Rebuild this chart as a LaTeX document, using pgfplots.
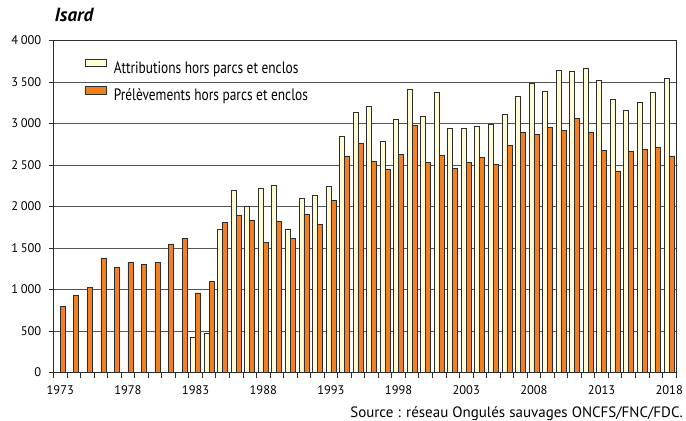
\documentclass[border=0pt]{standalone}
\usepackage{fontspec}
\setmainfont{PT Sans}
\newfontfamily\condfont[FakeStretch=0.81]{PT Sans}
\usepackage{pgfplots}
\usepackage{pgfplotstable}
\pgfplotsset{compat=1.18}
\definecolor{attr}{RGB}{255,251,212}
\definecolor{prel}{RGB}{242,128,32}
\definecolor{gridc}{RGB}{85,85,85}
\definecolor{edgec}{RGB}{45,45,45}

\pgfplotstableread{
year val
1973 800
1974 930
1975 1030
1976 1380
1977 1270
1978 1330
1979 1300
1980 1330
1981 1550
1982 1620
1983 960
1984 1100
1985 1810
1986 1890
1987 1830
1988 1570
1989 1820
1990 1620
1991 1910
1992 1780
1993 2070
1994 2600
1995 2760
1996 2540
1997 2450
1998 2630
1999 2980
2000 2530
2001 2620
2002 2460
2003 2530
2004 2590
2005 2510
2006 2740
2007 2890
2008 2870
2009 2950
2010 2920
2011 3060
2012 2900
2013 2680
2014 2430
2015 2660
2016 2690
2017 2710
2018 2610
}\prel

\pgfplotstableread{
year val
1983 430
1984 470
1985 1730
1986 2200
1987 2000
1988 2220
1989 2250
1990 1720
1991 2100
1992 2140
1993 2240
1994 2850
1995 3140
1996 3210
1997 2790
1998 3050
1999 3410
2000 3090
2001 3380
2002 2940
2003 2940
2004 2970
2005 2990
2006 3110
2007 3330
2008 3480
2009 3390
2010 3640
2011 3630
2012 3660
2013 3520
2014 3290
2015 3160
2016 3260
2017 3380
2018 3540
}\attrib

\begin{document}
\begin{tikzpicture}
\useasboundingbox (0bp,0bp) rectangle (686bp,421bp);
\begin{axis}[
  at={(53.5bp,48.5bp)}, anchor=south west,
  scale only axis, width=622.5bp, height=332bp,
  xmin=1972.5, xmax=2018.5, ymin=0, ymax=4000,
  axis line style={draw=edgec, line width=0.8bp},
  ymajorgrids, grid style={draw=gridc, line width=0.9bp},
  ytick={0,500,...,4000},
  ytick pos=left, xtick pos=bottom,
  tick align=outside,
  major tick length=5bp,
  tick style={draw=edgec, line width=0.8bp},
  xtick={1972.5,1973.5,...,2018.5},
  xticklabels={},
  extra x ticks={1973,1978,1983,1988,1993,1998,2003,2008,2013,2018},
  extra x tick labels={1973,1978,1983,1988,1993,1998,2003,2008,2013,2018},
  extra x tick style={major tick length=0pt, xticklabel style={anchor=north, inner sep=0pt, yshift=-12.5bp}},
  scaled y ticks=false,
  yticklabel style={anchor=east, inner sep=0pt, xshift=-7bp, /pgf/number format/1000 sep={\hspace{2.6bp}}, /pgf/number format/assume math mode=true},
  tick label style={font=\fontsize{12.5bp}{14bp}\selectfont},
  title={Isard},
  title style={at={(axis description cs:0,1)}, anchor=base west, inner sep=0pt, yshift=13bp, xshift=1bp, font=\fontsize{19bp}{22bp}\selectfont\bfseries\itshape},
  xlabel={Source : réseau Ongulés sauvages ONCFS/FNC/FDC.},
  xlabel style={at={(axis description cs:1,0)}, anchor=base east, inner sep=0pt, yshift=-45bp, xshift=7bp, font=\fontsize{15bp}{17bp}\selectfont},
  legend style={at={(axis description cs:0.0506,0.945)}, anchor=north west, draw=none, fill=none, inner sep=0pt, row sep=11bp, column sep=7bp, font=\fontsize{16.5bp}{18bp}\selectfont\condfont, nodes={inner sep=0pt}},
  legend cell align=left,
  clip=false,
]
\addlegendimage{legend image code/.code={\draw[fill=attr,draw=edgec,line width=0.7bp] (0bp,1.75bp) rectangle (21bp,9.25bp);}}
\addlegendentry{Attributions hors parcs et enclos}
\addlegendimage{legend image code/.code={\draw[fill=prel,draw=edgec,line width=0.7bp] (0bp,1.75bp) rectangle (21bp,9.25bp);}}
\addlegendentry{Prélèvements hors parcs et enclos}
\addplot[ybar, bar width=5bp, bar shift=-2.5bp, fill=attr, draw=edgec, line width=0.6bp, forget plot] table[x=year,y=val] {\attrib};
\addplot[ybar, bar width=5bp, bar shift=2.5bp, fill=prel, draw=edgec, line width=0.6bp, forget plot] table[x=year,y=val] {\prel};
\end{axis}
\end{tikzpicture}
\end{document}
